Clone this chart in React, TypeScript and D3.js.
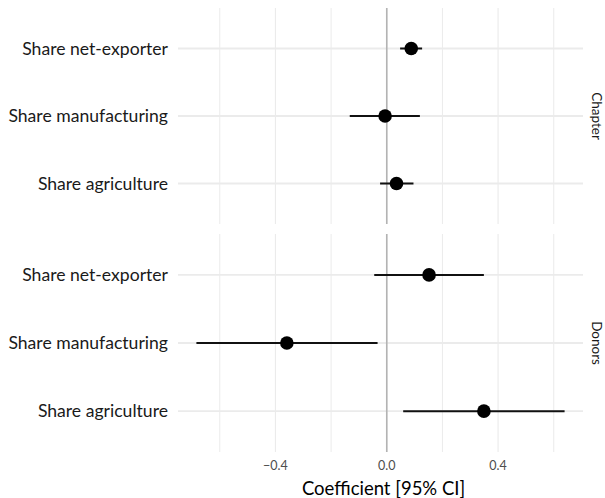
import React from "react";
import * as d3 from "d3";

// data
const panels = ["Chapter", "Donors"];
const terms = ["Share net-exporter", "Share manufacturing", "Share agriculture"];
const estChapter = [0.088, -0.006, 0.035];
const lowChapter = [0.048, -0.133, -0.024];
const highChapter = [0.127, 0.119, 0.096];
const estDonors = [0.152, -0.359, 0.349];
const lowDonors = [-0.045, -0.684, 0.059];
const highDonors = [0.349, -0.033, 0.639];
const xTicks = [-0.4, 0.0, 0.4];
const xMinor = [-0.6, -0.2, 0.2, 0.6];

const W = 605, H = 498;
const left = 178, right = 583;
const panelBox = [
  { top: 8, bottom: 224 },
  { top: 234, bottom: 452 },
];
const font = "Lato, 'Open Sans', sans-serif";

export default function App() {
  const rows = [
    terms.map((t, i) => ({ term: t, est: estChapter[i], lo: lowChapter[i], hi: highChapter[i] })),
    terms.map((t, i) => ({ term: t, est: estDonors[i], lo: lowDonors[i], hi: highDonors[i] })),
  ];

  // x scale with ggplot-like 5% expansion
  const lo = d3.min(rows.flat(), (d) => d.lo) as number;
  const hi = d3.max(rows.flat(), (d) => d.hi) as number;
  const pad = (hi - lo) * 0.05;
  const x = d3.scaleLinear().domain([lo - pad, hi + pad]).range([left, right]);

  return (
    <svg width={W} height={H} style={{ display: "block", position: "absolute", left: 0, top: 0 }}>
      <rect width={W} height={H} fill="#fff" />
      {panels.map((p, pi) => {
        const box = panelBox[pi];
        const y = d3.scalePoint<string>().domain(terms).range([box.top, box.bottom]).padding(0.6);
        return (
          <g key={p}>
            {/* grid */}
            {xMinor.map((v) => (
              <line key={"m" + v} x1={x(v)} x2={x(v)} y1={box.top} y2={box.bottom} stroke="#ebebeb" strokeWidth={1} />
            ))}
            {xTicks.map((v) => (
              <line key={"M" + v} x1={x(v)} x2={x(v)} y1={box.top} y2={box.bottom} stroke="#ebebeb" strokeWidth={1.1} />
            ))}
            {terms.map((t) => (
              <line key={"h" + t} x1={left} x2={right} y1={y(t)} y2={y(t)} stroke="#ebebeb" strokeWidth={1.8} />
            ))}
            {/* zero reference */}
            <line x1={x(0)} x2={x(0)} y1={box.top} y2={box.bottom} stroke="#b3b3b3" strokeWidth={1.6} />
            {/* intervals and points */}
            {rows[pi].map((d) => (
              <g key={d.term}>
                <line x1={x(d.lo)} x2={x(d.hi)} y1={y(d.term)} y2={y(d.term)} stroke="#111" strokeWidth={2} />
                <circle cx={x(d.est)} cy={y(d.term)} r={6.8} fill="#000" />
              </g>
            ))}
            {/* y labels */}
            {terms.map((t) => (
              <text key={"l" + t} x={168} y={y(t)} dy="0.35em" textAnchor="end" fontFamily={font} fontSize={17.6} fill="#1a1a1a">
                {t}
              </text>
            ))}
            {/* strip */}
            <text
              transform={`translate(${597},${(box.top + box.bottom) / 2}) rotate(90)`}
              textAnchor="middle"
              dy="0.35em"
              fontFamily={font}
              fontSize={13.5}
              fill="#1a1a1a"
            >
              {p}
            </text>
          </g>
        );
      })}
      {xTicks.map((v) => (
        <text key={"t" + v} x={x(v)} y={466} dy="0.35em" textAnchor="middle" fontFamily={font} fontSize={12.5} fill="#4d4d4d">
          {d3.format(".1f")(v)}
        </text>
      ))}
      <text x={(left + right) / 2 + 3} y={489} dy="0.35em" textAnchor="middle" fontFamily={font} fontSize={18.5} fill="#000">
        Coefficient [95% CI]
      </text>
    </svg>
  );
}
